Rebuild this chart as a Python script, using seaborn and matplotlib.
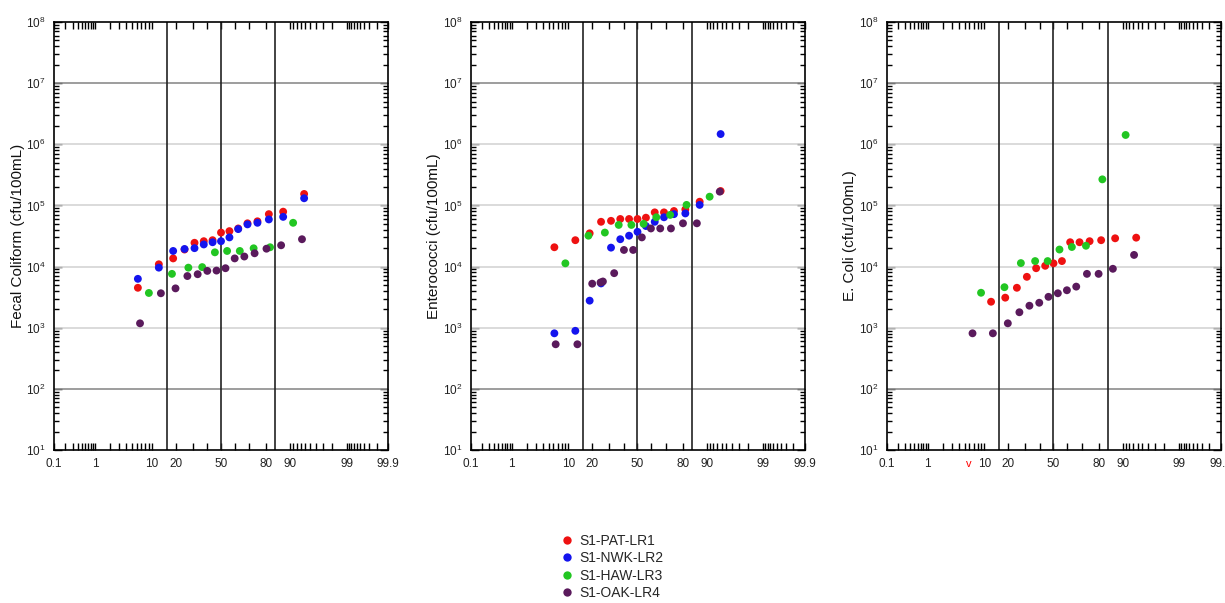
import numpy as np
import pandas as pd
import matplotlib
matplotlib.use("Agg")
import matplotlib.pyplot as plt
import seaborn as sns
from statistics import NormalDist
from matplotlib.ticker import FixedLocator, FixedFormatter, NullFormatter, LogLocator
from matplotlib.lines import Line2D

# ---------------- data ----------------
sites = ["S1-PAT-LR1", "S1-NWK-LR2", "S1-HAW-LR3", "S1-OAK-LR4"]
site_colors = ["#ee1111", "#1414ee", "#22c622", "#5a1a5c"]

# Fecal Coliform
fc_pat_pct = [6.2, 12.5, 18.8, 25.0, 31.2, 37.5, 43.8, 50.0, 56.2, 62.5, 68.8, 75.0, 81.2, 87.5, 93.8]
fc_pat_val = [4.5e3, 1.09e4, 1.36e4, 1.9e4, 2.45e4, 2.6e4, 2.7e4, 3.6e4, 3.8e4, 4.2e4, 5.1e4, 5.5e4, 7.2e4, 7.9e4, 1.54e5]
fc_nwk_pct = [6.2, 12.5, 18.8, 25.0, 31.2, 37.5, 43.8, 50.0, 56.2, 62.5, 68.8, 75.0, 81.2, 87.5, 93.8]
fc_nwk_val = [6.3e3, 9.6e3, 1.8e4, 1.94e4, 2.0e4, 2.3e4, 2.5e4, 2.6e4, 3.0e4, 4.1e4, 4.9e4, 5.2e4, 5.9e4, 6.5e4, 1.31e5]
fc_haw_pct = [9.1, 18.2, 27.3, 36.4, 45.5, 54.5, 63.6, 72.7, 81.8, 90.9]
fc_haw_val = [3.7e3, 7.6e3, 9.6e3, 9.8e3, 1.71e4, 1.8e4, 1.8e4, 1.99e4, 2.07e4, 5.2e4]
fc_oak_pct = [6.7, 13.3, 20.0, 26.7, 33.3, 40.0, 46.7, 53.3, 60.0, 66.7, 73.3, 80.0, 86.7, 93.3]
fc_oak_val = [1.18e3, 3.66e3, 4.4e3, 7.0e3, 7.5e3, 8.5e3, 8.6e3, 9.4e3, 1.36e4, 1.46e4, 1.65e4, 1.96e4, 2.23e4, 2.8e4]

# Enterococci
en_pat_pct = [6.2, 12.5, 18.8, 25.0, 31.2, 37.5, 43.8, 50.0, 56.2, 62.5, 68.8, 75.0, 81.2, 87.5, 93.8]
en_pat_val = [2.07e4, 2.7e4, 3.5e4, 5.4e4, 5.6e4, 6.0e4, 6.0e4, 6.0e4, 6.3e4, 7.7e4, 7.7e4, 8.1e4, 8.6e4, 1.15e5, 1.72e5]
en_nwk_pct = [6.2, 12.5, 18.8, 25.0, 31.2, 37.5, 43.8, 50.0, 56.2, 62.5, 68.8, 75.0, 81.2, 87.5, 93.8]
en_nwk_val = [810, 890, 2.77e3, 5.3e3, 2.04e4, 2.8e4, 3.2e4, 3.7e4, 4.6e4, 5.4e4, 6.4e4, 7.2e4, 7.4e4, 1.02e5, 1.47e6]
en_haw_pct = [9.1, 18.2, 27.3, 36.4, 45.5, 54.5, 63.6, 72.7, 81.8, 90.9]
en_haw_val = [1.13e4, 3.2e4, 3.6e4, 4.8e4, 4.8e4, 5.0e4, 6.4e4, 7.0e4, 1.02e5, 1.39e5]
en_oak_pct = [6.5, 13.3, 20.1, 24.7, 26.1, 33.3, 40.1, 46.8, 53.2, 59.8, 66.3, 73.2, 80.0, 86.4, 93.6]
en_oak_val = [536, 536, 5.25e3, 5.5e3, 5.7e3, 7.8e3, 1.87e4, 1.87e4, 3.0e4, 4.2e4, 4.2e4, 4.2e4, 5.1e4, 5.1e4, 1.68e5]

# E. Coli
ec_pat_pct = [12.4, 18.6, 24.9, 31.1, 37.4, 43.9, 50.0, 56.2, 62.1, 68.5, 74.8, 81.1, 87.3, 93.7]
ec_pat_val = [2.66e3, 3.1e3, 4.5e3, 6.8e3, 9.4e3, 1.03e4, 1.13e4, 1.23e4, 2.5e4, 2.5e4, 2.6e4, 2.7e4, 2.9e4, 2.97e4]
ec_haw_pct = [9.0, 18.2, 27.3, 36.7, 45.7, 54.4, 63.3, 72.6, 81.7, 90.9]
ec_haw_val = [3.73e3, 4.6e3, 1.14e4, 1.23e4, 1.23e4, 1.9e4, 2.09e4, 2.19e4, 2.67e5, 1.42e6]
ec_oak_pct = [6.7, 13.1, 19.9, 26.4, 32.8, 39.6, 46.3, 53.2, 59.8, 66.3, 73.2, 79.8, 86.4, 93.2]
ec_oak_val = [810, 810, 1.18e3, 1.79e3, 2.29e3, 2.56e3, 3.2e3, 3.66e3, 4.1e3, 4.7e3, 7.6e3, 7.6e3, 9.2e3, 1.55e4]

panel_ylabels = ["Fecal Coliform (cfu/100mL)", "Enterococci (cfu/100mL)", "E. Coli (cfu/100mL)"]

x_major = [0.1, 1, 10, 20, 50, 80, 90, 99, 99.9]
x_major_labels = ["0.1", "1", "10", "20", "50", "80", "90", "99", "99.9"]
x_minor = [0.2, 0.3, 0.4, 0.5, 0.6, 0.7, 0.8, 0.9, 2, 3, 4, 5, 6, 7, 8, 9,
           30, 40, 60, 70, 91, 92, 93, 94, 95, 96, 97, 98,
           99.1, 99.2, 99.3, 99.4, 99.5, 99.6, 99.7, 99.8]
sigma_lines = [15.87, 50.0, 84.13]

# ---------------- helpers ----------------
_nd = NormalDist()
_ppf = np.vectorize(_nd.inv_cdf, otypes=[float])
_cdf = np.vectorize(_nd.cdf, otypes=[float])


def probit_fwd(p):
    q = np.clip(np.asarray(p, dtype=float) / 100.0, 1e-12, 1 - 1e-12)
    return _ppf(q)


def probit_inv(z):
    return _cdf(np.asarray(z, dtype=float)) * 100.0


def frame(pairs):
    rows = []
    for site, pct, val in pairs:
        rows.append(pd.DataFrame({"pct": pct, "val": val, "site": site}))
    return pd.concat(rows, ignore_index=True)


panels = [
    frame([(sites[0], fc_pat_pct, fc_pat_val), (sites[1], fc_nwk_pct, fc_nwk_val),
           (sites[2], fc_haw_pct, fc_haw_val), (sites[3], fc_oak_pct, fc_oak_val)]),
    frame([(sites[0], en_pat_pct, en_pat_val), (sites[1], en_nwk_pct, en_nwk_val),
           (sites[2], en_haw_pct, en_haw_val), (sites[3], en_oak_pct, en_oak_val)]),
    frame([(sites[0], ec_pat_pct, ec_pat_val),
           (sites[2], ec_haw_pct, ec_haw_val), (sites[3], ec_oak_pct, ec_oak_val)]),
]

# ---------------- drawing ----------------
sns.set_style("white")
plt.rcParams["font.family"] = ["Liberation Sans", "DejaVu Sans"]
plt.rcParams["mathtext.default"] = "regular"

W, H = 1225, 603
fig = plt.figure(figsize=(W / 100, H / 100), dpi=100)
fig.patch.set_facecolor("white")

lefts = [54, 470.5, 886.5]
ax_w, ax_top, ax_bot = 334, 22, 450
palette = dict(zip(sites, site_colors))

for i, (left, df) in enumerate(zip(lefts, panels)):
    ax = fig.add_axes([left / W, 1 - ax_bot / H, ax_w / W, (ax_bot - ax_top) / H])
    ax.set_xscale("function", functions=(probit_fwd, probit_inv))
    ax.set_yscale("log")
    ax.set_xlim(0.1, 99.9)
    ax.set_ylim(10, 1e8)

    # decade grid lines
    for e in range(2, 8):
        col = "#8c8c8c" if e in (2, 7) else "#d4d4d4"
        ax.axhline(10.0 ** e, color=col, lw=1.2, zorder=1)
    for xv in sigma_lines:
        ax.axvline(xv, color="#222222", lw=1.2, zorder=1)

    order = [s for s in sites if s in set(df["site"])]
    sns.scatterplot(data=df, x="pct", y="val", hue="site", hue_order=order,
                    palette=palette, s=32, edgecolor="none", linewidth=0,
                    legend=False, ax=ax, zorder=3)

    ax.xaxis.set_major_locator(FixedLocator(x_major))
    ax.xaxis.set_major_formatter(FixedFormatter(x_major_labels))
    ax.xaxis.set_minor_locator(FixedLocator(x_minor))
    ax.xaxis.set_minor_formatter(NullFormatter())
    ax.yaxis.set_major_locator(FixedLocator([10.0 ** e for e in range(1, 9)]))
    ax.yaxis.set_major_formatter(FixedFormatter([f"$10^{{{e}}}$" for e in range(1, 9)]))
    ax.yaxis.set_minor_locator(LogLocator(base=10, subs=np.arange(2, 10), numticks=20))
    ax.yaxis.set_minor_formatter(NullFormatter())

    ax.tick_params(axis="both", which="both", direction="in",
                   top=True, right=True, bottom=True, left=True,
                   color="black", width=1.0, labelsize=8.5, labelcolor="#222222")
    ax.tick_params(axis="x", which="both", length=5, pad=6)
    ax.tick_params(axis="y", which="major", length=6, pad=6)
    ax.tick_params(axis="y", which="minor", length=3.5)

    for sp in ax.spines.values():
        sp.set_color("black")
        sp.set_linewidth(1.2)
        sp.set_visible(True)

    ax.set_xlabel("")
    ax.set_ylabel(panel_ylabels[i], fontsize=11, color="#111111", labelpad=1)

# small red mark in third panel
fig.text(969 / W, 1 - 464 / H, "v", color="red", fontsize=8, ha="center", va="center")

handles = [Line2D([0], [0], marker="o", linestyle="none", markersize=6,
                  markerfacecolor=c, markeredgecolor="none") for c in site_colors]
fig.legend(handles, sites, loc="center", bbox_to_anchor=(612 / W, 1 - 567 / H),
           frameon=False, fontsize=10, labelspacing=0.25, handletextpad=0.4,
           handlelength=1.0, borderpad=0.2)

fig.savefig("out.png", dpi=100, facecolor="white")
